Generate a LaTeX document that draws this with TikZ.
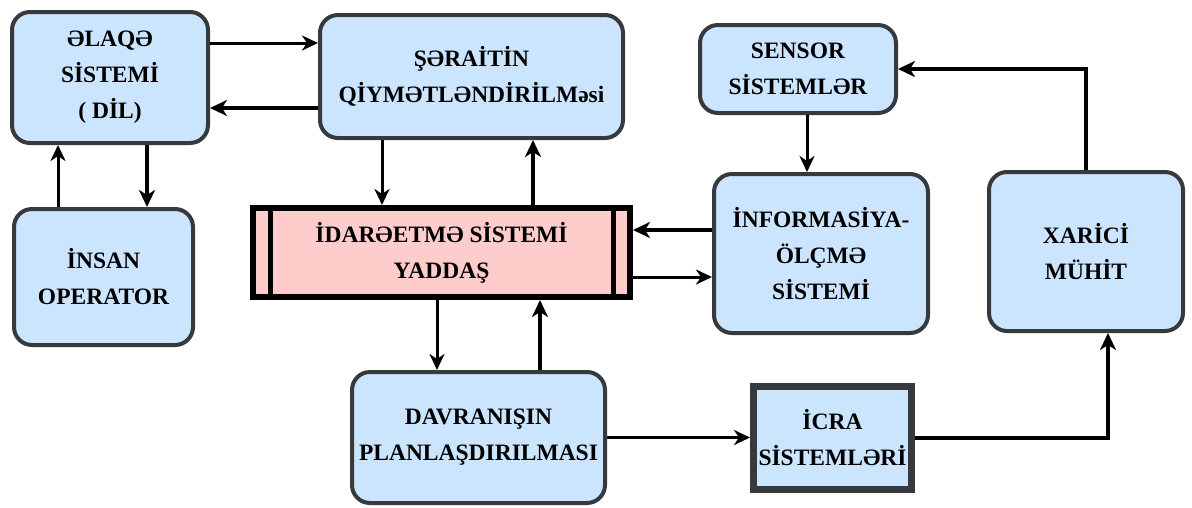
\documentclass[tikz,border=0pt]{standalone}
\usepackage{fontspec}
\setmainfont{Liberation Serif}
\usetikzlibrary{arrows.meta,calc}
\definecolor{boxfill}{HTML}{CCE5FF}
\definecolor{memfill}{HTML}{FFCCCC}
\definecolor{boxline}{HTML}{36393D}
\begin{document}
\begin{tikzpicture}[x=1pt,y=-1pt,
  font=\fontsize{23.5}{36}\selectfont\bfseries,
  block/.style={draw=boxline, fill=boxfill, line width=4pt, rounded corners=18pt,
    align=center, inner sep=0pt},
  actbox/.style={draw=boxline, fill=boxfill, line width=7pt, align=center, inner sep=0pt},
  membox/.style={draw=black, fill=memfill, line width=6pt, align=center, inner sep=0pt},
  thin arrow/.style={line width=3pt, -{Stealth[length=16pt,width=15pt,inset=5pt]}},
  thick arrow/.style={line width=4.5pt, -{Stealth[length=17pt,width=16pt,inset=5pt]}}]

% page area
\useasboundingbox (0,0) rectangle (1192,507);

% blocks
\node[block, minimum width=196pt, minimum height=131pt] (elaqe) at (110,77.5)
  {ƏLAQƏ\\SİSTEMİ\\( DİL)};
\node[block, minimum width=303pt, minimum height=123pt] (serait) at (471.5,76.5)
  {ŞƏRAİTİN\\QİYMƏTLƏNDİRİLMəsi};
\node[block, minimum width=179pt, minimum height=136pt] (insan) at (103.5,277)
  {İNSAN\\OPERATOR};
\node[membox, minimum width=377pt, minimum height=89pt] (idare) at (441.5,252.5)
  {İDARƏETMƏ SİSTEMİ\\YADDAŞ};
\draw[line width=5pt] ([xshift=20]idare.north west) -- ([xshift=20]idare.south west);
\draw[line width=5pt] ([xshift=-20]idare.north east) -- ([xshift=-20]idare.south east);
\node[block, minimum width=196pt, minimum height=88pt] (sensor) at (798,69)
  {SENSOR\\SİSTEMLƏR};
\node[block, minimum width=214pt, minimum height=159pt] (info) at (821,253.5)
  {İNFORMASİYA-\\ÖLÇMƏ\\SİSTEMİ};
\node[block, minimum width=194pt, minimum height=159pt] (xarici) at (1086,251.5)
  {XARİCİ\\MÜHİT};
\node[block, minimum width=253pt, minimum height=131pt] (davr) at (478.5,437.5)
  {DAVRANIŞIN\\PLANLAŞDIRILMASI};
\node[actbox, minimum width=158pt, minimum height=103pt] (icra) at (832.5,438)
  {İCRA\\SİSTEMLƏRİ};

% connectors
\draw[thin arrow] ([yshift=34.5]elaqe.east) -- ([yshift=34.5]elaqe.east -| serait.west);
\draw[thick arrow] ([yshift=-31.5]serait.west) -- ([yshift=-31.5]serait.west -| elaqe.east);
\draw[thick arrow] ([xshift=37]elaqe.south) -- ([xshift=37]elaqe.south |- insan.north);
\draw[thin arrow] ([xshift=-45.5]insan.north) -- ([xshift=-45.5]insan.north |- elaqe.south);
\draw[thin arrow] ([xshift=-89.5]serait.south) -- ([xshift=-89.5]serait.south |- idare.north);
\draw[thick arrow] ([xshift=91.5]idare.north) -- ([xshift=91.5]idare.north |- serait.south);
\draw[thin arrow] ([xshift=-4.5]idare.south) -- ([xshift=-4.5]idare.south |- davr.north);
\draw[thick arrow] ([xshift=61.5]davr.north) -- ([xshift=61.5]davr.north |- idare.south);
\draw[thick arrow] ([yshift=23.5]info.west) -- ([yshift=23.5]info.west -| idare.east);
\draw[thin arrow] ([yshift=-24.5]idare.east) -- ([yshift=-24.5]idare.east -| info.west);
\draw[thin arrow] ([xshift=9]sensor.south) -- ([xshift=9]sensor.south |- info.north);
\draw[thin arrow] (davr.east) -- (davr.east -| icra.west);
\draw[thick arrow] (icra.east) -| ([xshift=22]xarici.south);
\draw[thick arrow] (xarici.north) |- (sensor.east);
\end{tikzpicture}
\end{document}
